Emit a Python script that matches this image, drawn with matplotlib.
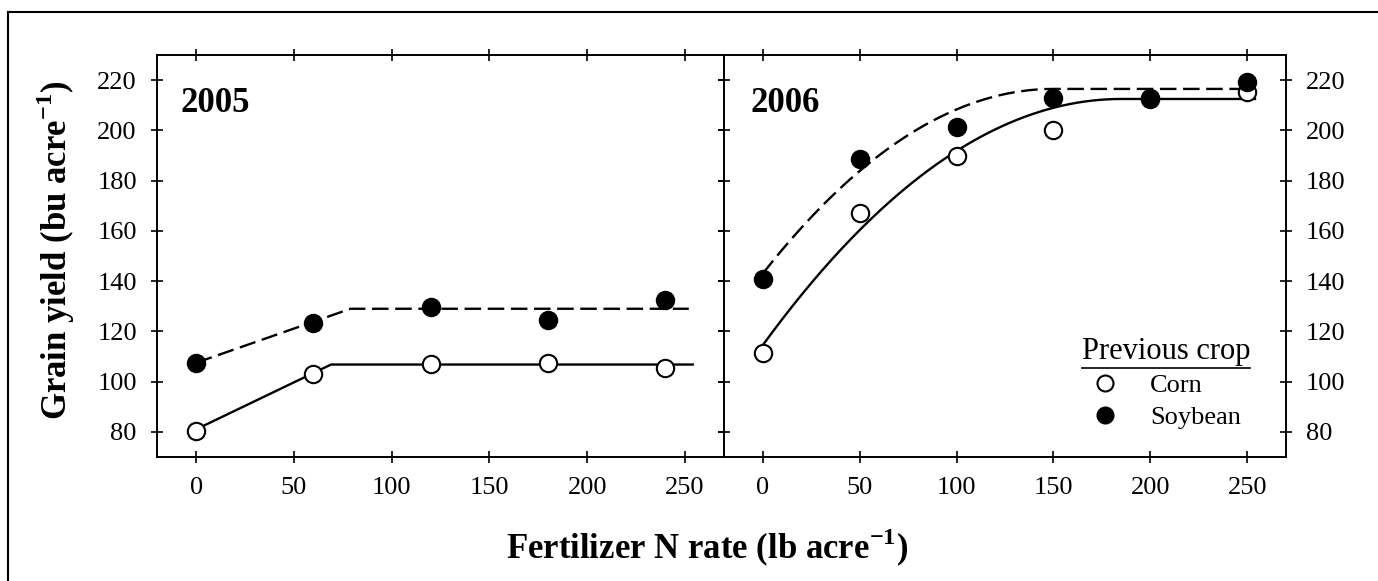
import numpy as np
import matplotlib
matplotlib.use("Agg")
import matplotlib.pyplot as plt
from matplotlib.lines import Line2D

plt.rcParams['font.family'] = ['Liberation Serif', 'DejaVu Serif']
plt.rcParams['mathtext.fontset'] = 'custom'
plt.rcParams['mathtext.rm'] = 'Liberation Serif'
plt.rcParams['mathtext.bf'] = 'Liberation Serif:bold'

# 2005 data
n_2005 = [0, 60, 120, 180, 240]
corn_2005 = [80.5, 103.2, 107.0, 107.4, 105.4]
soy_2005 = [107.4, 123.5, 129.7, 124.6, 132.6]
# linear-plateau fits (intercept, join point, plateau, end)
corn_fit_2005 = dict(a=81.0, xj=69, p=106.8, end=254)
soy_fit_2005 = dict(a=107.5, xj=79, p=129.0, end=252)

# 2006 data
n_2006 = [0, 50, 100, 150, 200, 250]
corn_2006 = [111.4, 167.0, 189.9, 200.1, 212.5, 215.4]
soy_2006 = [140.8, 188.6, 201.5, 212.7, 212.7, 219.1]
# quadratic-plateau fits
corn_fit_2006 = dict(a=114.5, xj=185, p=212.5, end=254)
soy_fit_2006 = dict(a=143.0, xj=150, p=216.5, end=254)


def lin_plateau(f):
    x = np.array([0, f['xj'], f['end']])
    y = np.array([f['a'], f['p'], f['p']])
    return x, y


def quad_plateau(f):
    b = 2 * (f['p'] - f['a']) / f['xj']
    c = -b / (2 * f['xj'])
    x = np.linspace(0, f['end'], 200)
    y = np.where(x < f['xj'], f['a'] + b * x + c * x ** 2, f['p'])
    return x, y


fig = plt.figure(figsize=(13.78, 5.81), dpi=100)
ax1 = fig.add_axes([157 / 1378, 124 / 581, 567 / 1378, 402 / 581])
ax2 = fig.add_axes([724 / 1378, 124 / 581, 562 / 1378, 402 / 581])

ms = 12.5
dash = (0, (7, 2.8))
for ax in (ax1, ax2):
    ax.set_xlim(-20, 270)
    ax.set_ylim(70, 230)
    ax.set_xticks([0, 50, 100, 150, 200, 250])
    ax.set_yticks(range(80, 221, 20))
    ax.tick_params(direction='inout', length=9, width=1.2, top=True, bottom=True,
                   left=True, right=True, labelsize=19, pad=10)
    for s in ax.spines.values():
        s.set_linewidth(1.4)

ax2.tick_params(labelleft=False, labelright=True)

# 2005
x, y = lin_plateau(corn_fit_2005)
ax1.plot(x, y, color='black', lw=1.7)
x, y = lin_plateau(soy_fit_2005)
ax1.plot(x, y, color='black', lw=1.7, linestyle=dash)
ax1.plot(n_2005, corn_2005, 'o', ms=ms, mfc='white', mec='black', mew=1.5, zorder=3)
ax1.plot(n_2005, soy_2005, 'o', ms=ms, mfc='black', mec='black', mew=1.5, zorder=4)
ax1.text(0.041, 0.88, '2005', transform=ax1.transAxes, fontsize=25,
         fontweight='bold', va='center')

# 2006
x, y = quad_plateau(corn_fit_2006)
ax2.plot(x, y, color='black', lw=1.7)
x, y = quad_plateau(soy_fit_2006)
ax2.plot(x, y, color='black', lw=1.7, linestyle=dash)
ax2.plot(n_2006, corn_2006, 'o', ms=ms, mfc='white', mec='black', mew=1.5, zorder=3)
ax2.plot(n_2006, soy_2006, 'o', ms=ms, mfc='black', mec='black', mew=1.5, zorder=4)
ax2.text(0.048, 0.88, '2006', transform=ax2.transAxes, fontsize=25,
         fontweight='bold', va='center')

# legend
handles = [Line2D([], [], ls='none', marker='o', ms=11.5, mfc='white', mec='black', mew=1.5),
           Line2D([], [], ls='none', marker='o', ms=11.5, mfc='black', mec='black', mew=1.5)]
leg = ax2.legend(handles, ['Corn', 'Soybean'], title='Previous crop', frameon=False,
                 loc='lower right', bbox_to_anchor=(0.936, 0.07), fontsize=19,
                 title_fontsize=22, handlelength=1.8, handletextpad=0.8,
                 labelspacing=0.3, borderpad=0, borderaxespad=0)
leg._legend_box.align = 'left'

fig.text(707 / 1378, 1 - 548 / 581, r'Fertilizer N rate (lb acre$^{\mathbf{-1}}$)',
         ha='center', va='center', fontsize=25, fontweight='bold')
fig.text(56 / 1378, 1 - 250 / 581, r'Grain yield (bu acre$^{\mathbf{-1}}$)',
         ha='center', va='center', rotation=90, fontsize=25, fontweight='bold')

# outer frame (top and left edges)
fig.add_artist(Line2D([8 / 1378, 8 / 1378], [0, 1 - 12 / 581], color='black', lw=1.5,
                      transform=fig.transFigure))
fig.add_artist(Line2D([8 / 1378, 1], [1 - 12 / 581, 1 - 12 / 581], color='black', lw=1.5,
                      transform=fig.transFigure))

# underline legend title
fig.canvas.draw()
bb = leg.get_title().get_window_extent().transformed(fig.transFigure.inverted())
fig.add_artist(Line2D([bb.x0, bb.x1], [bb.y0 - 0.003, bb.y0 - 0.003], color='black',
                      lw=1.2, transform=fig.transFigure))

fig.savefig('out.png', dpi=100)
